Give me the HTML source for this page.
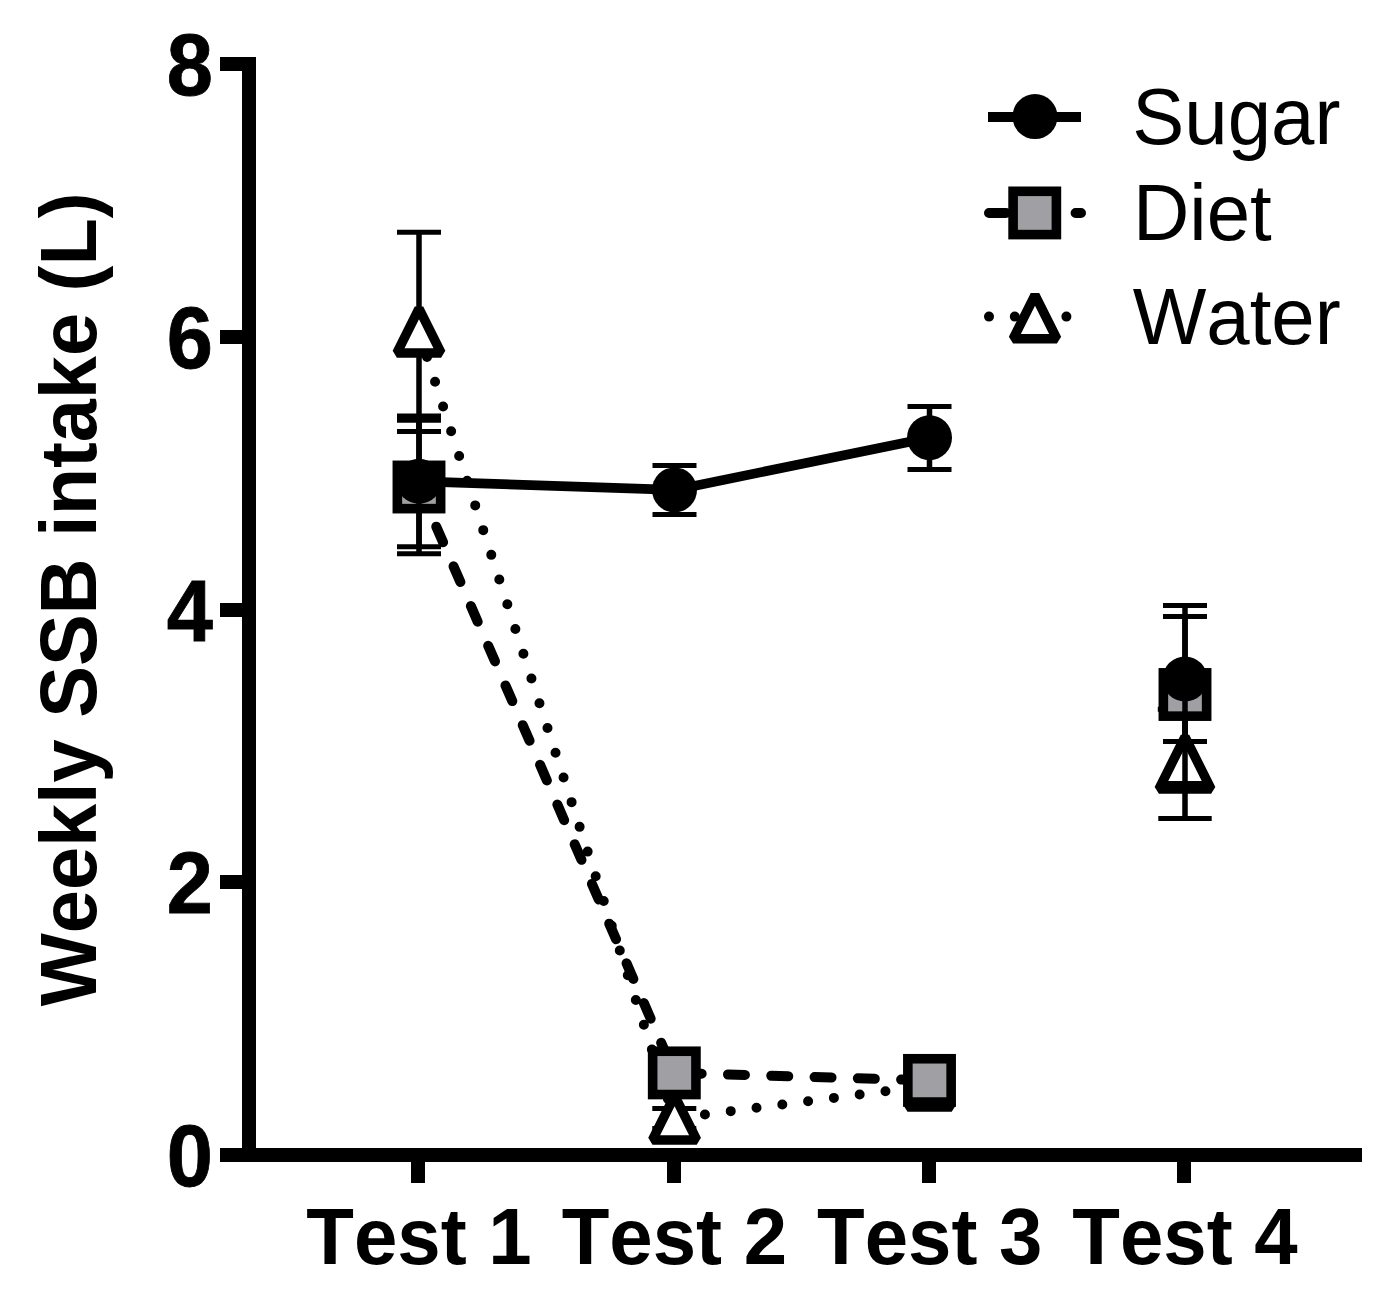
<!DOCTYPE html>
<html lang="en">
<head>
<meta charset="utf-8">
<title>Weekly SSB intake</title>
<style>
html,body{margin:0;padding:0;background:#fff;}
body{width:1391px;height:1299px;overflow:hidden;}
svg{display:block;}
text{font-family:"Liberation Sans",Arial,Helvetica,sans-serif;fill:#000;font-kerning:none;font-feature-settings:"kern" 0,"liga" 0;}
.b{font-weight:bold;}
.xl{font-size:78px;font-weight:bold;text-anchor:middle;}
.yl{font-size:83px;font-weight:bold;text-anchor:end;stroke:#000;stroke-width:0.8;}
.lg{font-size:78px;}
.eb{stroke:#000;stroke-width:5.5;fill:none;}
.cap{stroke:#000;stroke-width:5;fill:none;}
.sq{fill:#a0a0a4;stroke:#000;stroke-width:9.6;}
.tri{fill:#fff;stroke:#000;stroke-width:9.5;stroke-linejoin:bevel;}
</style>
</head>
<body>
<svg width="1391" height="1299" viewBox="0 0 1391 1299">
<rect width="1391" height="1299" fill="#fff"/>

<!-- axes -->
<g fill="#000">
<rect x="242" y="57" width="14" height="1105"/>
<rect x="220" y="1148" width="1142" height="14"/>
<rect x="220" y="57" width="36" height="14"/>
<rect x="220" y="330" width="36" height="14"/>
<rect x="220" y="603" width="36" height="14"/>
<rect x="220" y="875" width="36" height="14"/>
<rect x="411" y="1148" width="14" height="35"/>
<rect x="667" y="1148" width="14" height="35"/>
<rect x="922" y="1148" width="14" height="35"/>
<rect x="1177" y="1148" width="14" height="35"/>
</g>

<!-- y tick labels -->
<text class="yl" transform="translate(213,95) scale(1,1.057)">8</text>
<text class="yl" transform="translate(213,368) scale(1,1.057)">6</text>
<text class="yl" transform="translate(213,641) scale(1,1.057)">4</text>
<text class="yl" transform="translate(213,913) scale(1,1.057)">2</text>
<text class="yl" transform="translate(213,1186) scale(1,1.057)">0</text>

<!-- x tick labels -->
<text class="xl" transform="translate(419,1264) scale(1,1.02)">Test 1</text>
<text class="xl" transform="translate(674.4,1264) scale(1,1.02)">Test 2</text>
<text class="xl" transform="translate(929.7,1264) scale(1,1.02)">Test 3</text>
<text class="xl" transform="translate(1185,1264) scale(1,1.02)">Test 4</text>

<!-- y title -->
<text class="b" font-size="77.5" text-anchor="middle" transform="translate(96,599.4) rotate(-90) scale(1,1.02)">Weekly SSB intake (L)</text>

<!-- ===== Water (drawn first) ===== -->
<g id="water">
<path d="M419 332.3 L674.3 1118.4" stroke="#000" stroke-width="10" stroke-linecap="round" stroke-dasharray="0 26" fill="none"/>
<path d="M674.3 1118.4 L929.5 1085.6" stroke="#000" stroke-width="10" stroke-linecap="round" stroke-dasharray="0 26" stroke-dashoffset="-4.9" fill="none"/>
<!-- error bars -->
<path class="eb" d="M419 232.3V431.6 M674.3 1108.4V1128.4 M1185 709.3V818.5"/>
<path class="cap" d="M397 232.3h44 M397 431.6h44 M652.3 1108.4h44 M652.3 1128.4h44 M1157.8 709.3H1211 M1158.3 818.5h53.4"/>
<!-- triangles -->
<path class="tri" d="M419 308.7 L441.1 352.95 L396.9 352.95 Z"/>
<path class="tri" d="M674.6 1095.7 L696.7 1139.95 L652.5 1139.95 Z"/>
<path class="tri" d="M929.6 1062.8 L951.7 1107.05 L907.5 1107.05 Z"/>
<path class="tri" d="M1185 736.9 L1211.1 789.05 L1158.9 789.05 Z"/>
</g>

<!-- ===== Diet ===== -->
<g id="diet">
<path d="M419 487 L674.3 1072.9 L929.5 1080.4" stroke="#000" stroke-width="10" stroke-linecap="round" stroke-dasharray="17 26.3" fill="none"/>
<path class="eb" d="M419 420.2V553.8 M1185 605.4V783.6"/>
<path class="cap" d="M397 420.2h44 M397 553.8h44 M1163 605.4h44 M1163 783.6h44"/>
<rect class="sq" x="397.35" y="465.35" width="43.3" height="43.3"/>
<rect class="sq" x="652.65" y="1051.25" width="43.3" height="43.3"/>
<rect class="sq" x="907.85" y="1058.75" width="43.3" height="43.3"/>
<rect class="sq" x="1163.35" y="672.85" width="43.3" height="43.3"/>
</g>

<!-- ===== Sugar ===== -->
<g id="sugar">
<path d="M419 481.3 L674.5 489.9 L929.5 437.7" stroke="#000" stroke-width="9.7" stroke-linejoin="round" fill="none"/>
<path class="eb" d="M419 415.9V546.7 M674.5 465.4V514.4 M929.5 406.5V469.5 M1185 616.5V741.5"/>
<path class="cap" d="M397 415.9h44 M397 546.7h44 M652.5 465.4h44 M652.5 514.4h44 M907.5 406.5h44 M907.5 469.5h44 M1163 616.5h44 M1163 741.5h44"/>
<circle cx="419" cy="481.3" r="22.5"/>
<circle cx="674.5" cy="489.9" r="22.5"/>
<circle cx="929.5" cy="437.7" r="22.5"/>
<circle cx="1185" cy="679" r="22.5"/>
</g>

<!-- ===== Legend ===== -->
<g id="legend">
<rect x="988" y="112" width="93" height="10" fill="#000"/>
<circle cx="1035" cy="116.6" r="22.5"/>
<text class="lg" transform="translate(1132.3,144.2) scale(1,1.02)">Sugar</text>

<path d="M989 213H1081" stroke="#000" stroke-width="10" stroke-linecap="round" stroke-dasharray="17 26.3" fill="none"/>
<rect class="sq" x="1013.1" y="191.3" width="43.3" height="43.3"/>
<text class="lg" transform="translate(1133,239.6) scale(1,1.02)">Diet</text>

<path d="M989 316.6H1081" stroke="#000" stroke-width="10" stroke-linecap="round" stroke-dasharray="0 25.8" fill="none"/>
<path class="tri" d="M1035 295.1 L1056.9 338.8 L1013.1 338.8 Z"/>
<text class="lg" transform="translate(1132.7,344) scale(1,1.02)">Water</text>
</g>
</svg>
</body>
</html>
